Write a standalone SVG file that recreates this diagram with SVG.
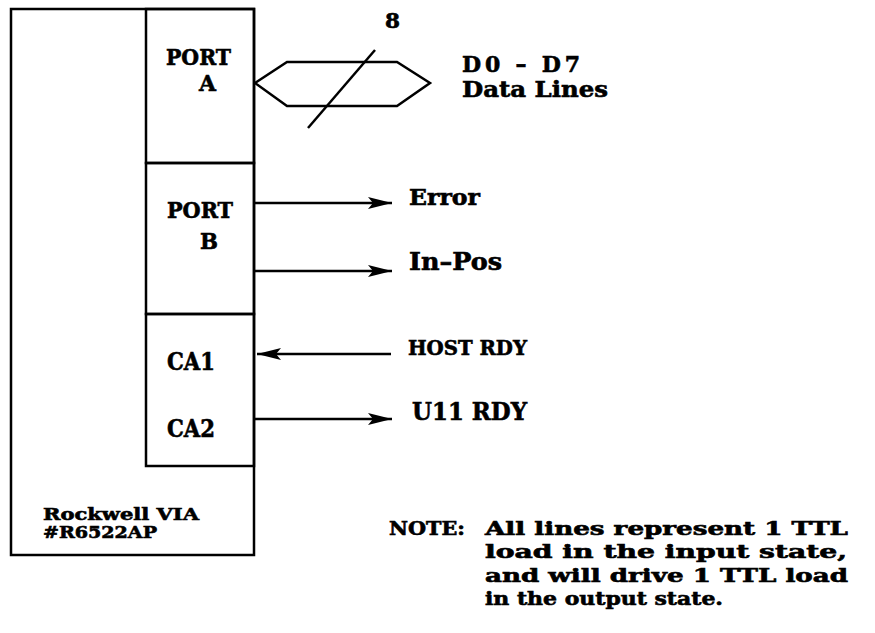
<svg xmlns="http://www.w3.org/2000/svg" width="875" height="633" viewBox="0 0 875 633">
<defs>
<style>
.ln{fill:none;stroke:#000;stroke-width:2.5}
.t{font-family:"DejaVu Serif","Liberation Serif",serif;font-weight:bold;fill:#000;stroke:#000;stroke-width:0.6}
</style>
<marker id="ah" viewBox="0 0 24 12" refX="24" refY="6" markerWidth="24" markerHeight="12" markerUnits="userSpaceOnUse" orient="auto">
<path d="M0,0 L24,6 L0,12 L5,6 Z" fill="#000"/>
</marker>
</defs>
<rect width="875" height="633" fill="#fff"/>
<g id="via">
<rect class="ln" x="11" y="9" width="243" height="546"/>
<text class="t" x="43" y="520" font-size="16" textLength="156" lengthAdjust="spacingAndGlyphs">Rockwell VIA</text>
<text class="t" x="43" y="538" font-size="16" textLength="114" lengthAdjust="spacingAndGlyphs">#R6522AP</text>
</g>
<g id="portA">
<rect class="ln" x="146" y="9" width="108" height="154"/>
<text class="t" x="166" y="65" font-size="22" textLength="65" lengthAdjust="spacingAndGlyphs">PORT</text>
<text class="t" x="199" y="91" font-size="22" textLength="17" lengthAdjust="spacingAndGlyphs">A</text>
</g>
<g id="portB">
<rect class="ln" x="146" y="163" width="108" height="151"/>
<text class="t" x="167" y="218" font-size="22" textLength="66" lengthAdjust="spacingAndGlyphs">PORT</text>
<text class="t" x="200" y="249" font-size="22" textLength="18" lengthAdjust="spacingAndGlyphs">B</text>
</g>
<g id="ca">
<rect class="ln" x="146" y="314" width="108" height="152"/>
<text class="t" x="167" y="370" font-size="24" textLength="48" lengthAdjust="spacingAndGlyphs">CA1</text>
<text class="t" x="167" y="437" font-size="24" textLength="48" lengthAdjust="spacingAndGlyphs">CA2</text>
</g>
<g id="bus">
<polygon class="ln" points="255,83 287,62 397,62 430,83 397,106 287,106"/>
<line class="ln" x1="375" y1="50" x2="308" y2="128"/>
<text class="t" x="385" y="28" font-size="20" textLength="15" lengthAdjust="spacingAndGlyphs">8</text>
<text class="t" x="462" y="72" font-size="22" textLength="118" lengthAdjust="spacing">D0 – D7</text>
<text class="t" x="462" y="97" font-size="22" textLength="146" lengthAdjust="spacingAndGlyphs">Data Lines</text>
</g>
<g id="connectors">
<line class="ln" x1="255" y1="203" x2="392" y2="203" marker-end="url(#ah)"/>
<line class="ln" x1="255" y1="271" x2="392" y2="271" marker-end="url(#ah)"/>
<line class="ln" x1="391" y1="354" x2="257" y2="354" marker-end="url(#ah)"/>
<line class="ln" x1="255" y1="419" x2="392" y2="419" marker-end="url(#ah)"/>
</g>
<g id="labels">
<text class="t" x="409" y="205" font-size="23" textLength="71" lengthAdjust="spacingAndGlyphs">Error</text>
<text class="t" x="409" y="270" font-size="24" textLength="93" lengthAdjust="spacingAndGlyphs">In–Pos</text>
<text class="t" x="408" y="355" font-size="20" textLength="119" lengthAdjust="spacingAndGlyphs">HOST RDY</text>
<text class="t" x="412" y="420" font-size="24" textLength="115" lengthAdjust="spacingAndGlyphs">U11 RDY</text>
</g>
<g id="note">
<text class="t" x="389" y="535" font-size="18" textLength="76" lengthAdjust="spacingAndGlyphs">NOTE:</text>
<text class="t" x="485" y="535" font-size="18" textLength="363" lengthAdjust="spacingAndGlyphs">All lines represent 1 TTL</text>
<text class="t" x="485" y="558" font-size="18" textLength="362" lengthAdjust="spacingAndGlyphs">load in the input state,</text>
<text class="t" x="485" y="582" font-size="18" textLength="363" lengthAdjust="spacingAndGlyphs">and will drive 1 TTL load</text>
<text class="t" x="485" y="605" font-size="18" textLength="238" lengthAdjust="spacingAndGlyphs">in the output state.</text>
</g>
</svg>
